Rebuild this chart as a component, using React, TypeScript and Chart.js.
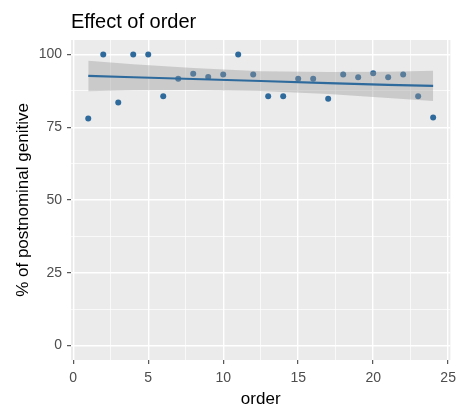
import React, { useEffect, useRef } from "react";
import { Chart, registerables } from "chart.js";

Chart.register(...registerables);

// Observed proportions (% postnominal genitive) by order position
const orders = [1, 2, 3, 4, 5, 6, 7, 8, 9, 10, 11, 12, 13, 14, 15, 16, 17, 18, 19, 20, 21, 22, 23, 24];
const percents = [78, 100, 83.5, 100, 100, 85.7, 91.7, 93.4, 92.3, 93.1, 100, 93.1, 85.7, 85.7, 91.7, 91.7, 84.8, 93.1, 92.2, 93.6, 92.2, 93.1, 85.7, 78.4];

// Linear smoother
const fitX = [1, 4, 8, 12.5, 17, 21, 24];
const fitY = [92.7, 92.2, 91.6, 90.9, 90.2, 89.6, 89.2];
const bandLower = [87.4, 87.7, 87.8, 87.5, 86.4, 85.1, 84.0];
const bandUpper = [97.9, 96.7, 95.4, 94.3, 94.0, 94.1, 94.4];

// Axis ticks (major ones labelled, minor ones unlabelled grid lines)
const xTicks = [0, 2.5, 5, 7.5, 10, 12.5, 15, 17.5, 20, 22.5, 25];
const xLabels = ["0", "", "5", "", "10", "", "15", "", "20", "", "25"];
const yTicks = [0, 12.5, 25, 37.5, 50, 62.5, 75, 87.5, 100];
const yLabels = ["0", "", "25", "", "50", "", "75", "", "100"];

const titleText = "Effect of order";
const xTitle = "order";
const yTitle = "% of postnominal genitive";

const PANEL = "#EBEBEB";
const BLUE = "#2E6A9C";
const FONT = "'Liberation Sans', Arial, sans-serif";

const panelBg = {
  id: "panelBg",
  beforeDraw(chart: any) {
    const { ctx, chartArea } = chart;
    ctx.save();
    ctx.fillStyle = PANEL;
    ctx.fillRect(chartArea.left, chartArea.top, chartArea.right - chartArea.left, chartArea.bottom - chartArea.top);
    ctx.restore();
  },
};

const isMajorX = (v: number) => Math.abs(v % 5) < 1e-9;
const isMajorY = (v: number) => Math.abs(v % 25) < 1e-9;

export default function App() {
  const ref = useRef<HTMLCanvasElement | null>(null);

  useEffect(() => {
    if (!ref.current) return;
    const zip = (xs: number[], ys: number[]) => xs.map((x, i) => ({ x, y: ys[i] }));
    const chart = new Chart(ref.current, {
      type: "scatter",
      plugins: [panelBg],
      data: {
        datasets: [
          {
            label: "fit",
            data: zip(fitX, fitY),
            showLine: true,
            borderColor: BLUE,
            borderWidth: 2.2,
            pointRadius: 0,
            fill: false,
          },
          {
            label: "upper",
            data: zip(fitX, bandUpper),
            showLine: true,
            borderWidth: 0,
            borderColor: "rgba(0,0,0,0)",
            pointRadius: 0,
            backgroundColor: "rgba(153,153,153,0.4)",
            fill: "+1",
          },
          {
            label: "lower",
            data: zip(fitX, bandLower),
            showLine: true,
            borderWidth: 0,
            borderColor: "rgba(0,0,0,0)",
            pointRadius: 0,
            fill: false,
          },
          {
            label: "points",
            data: zip(orders, percents),
            pointRadius: 3,
            pointBackgroundColor: BLUE,
            pointBorderWidth: 0,
            borderColor: BLUE,
          },
        ],
      },
      options: {
        animation: false,
        responsive: false,
        events: [],
        layout: { padding: { left: 0, right: 6, top: 0, bottom: 0 } },
        plugins: {
          legend: { display: false },
          tooltip: { enabled: false },
          title: {
            display: true,
            text: titleText,
            align: "start",
            fullSize: false,
            color: "#000000",
            font: { family: FONT, size: 20, weight: "normal", lineHeight: 1.2 },
            padding: { top: 10, bottom: 6 },
          },
        },
        scales: {
          x: {
            type: "linear",
            min: -0.15,
            max: 25.15,
            afterBuildTicks: (axis: any) => {
              axis.ticks = xTicks.map((v) => ({ value: v }));
            },
            afterFit: (axis: any) => {
              axis.height = 47;
            },
            border: { display: false },
            grid: {
              color: "#FFFFFF",
              lineWidth: (c: any) => (isMajorX(c.tick.value) ? 1.4 : 0.7),
              tickColor: (c: any) => (isMajorX(c.tick.value) ? "#333333" : "rgba(0,0,0,0)"),
              tickWidth: 1,
              tickLength: 4,
              drawTicks: true,
            },
            ticks: {
              autoSkip: false,
              maxRotation: 0,
              padding: 6,
              color: "#4D4D4D",
              font: { family: FONT, size: 14 },
              callback: (_v: any, i: number) => xLabels[i],
            },
            title: {
              display: true,
              text: xTitle,
              color: "#000000",
              font: { family: FONT, size: 17, lineHeight: 1 },
              padding: { top: 0, bottom: -1 },
            },
          },
          y: {
            type: "linear",
            min: -5,
            max: 105,
            afterBuildTicks: (axis: any) => {
              axis.ticks = yTicks.map((v) => ({ value: v }));
            },
            afterFit: (axis: any) => {
              axis.width = 71;
            },
            border: { display: false },
            grid: {
              color: "#FFFFFF",
              lineWidth: (c: any) => (isMajorY(c.tick.value) ? 1.4 : 0.7),
              tickColor: (c: any) => (isMajorY(c.tick.value) ? "#333333" : "rgba(0,0,0,0)"),
              tickWidth: 1,
              tickLength: 4,
              drawTicks: true,
            },
            ticks: {
              autoSkip: false,
              padding: 5,
              color: "#4D4D4D",
              font: { family: FONT, size: 14 },
              callback: (_v: any, i: number) => yLabels[i],
            },
            title: {
              display: true,
              text: yTitle,
              color: "#000000",
              font: { family: FONT, size: 17, lineHeight: 1 },
              padding: { top: 15, bottom: 0 },
            },
          },
        },
      },
    } as any);
    return () => chart.destroy();
  }, []);

  return (
    <div style={{ position: "fixed", left: 0, top: 0, width: 462, height: 407, background: "#FFFFFF" }}>
      <canvas ref={ref} width={462} height={407} style={{ display: "block", width: 462, height: 407 }} />
    </div>
  );
}
